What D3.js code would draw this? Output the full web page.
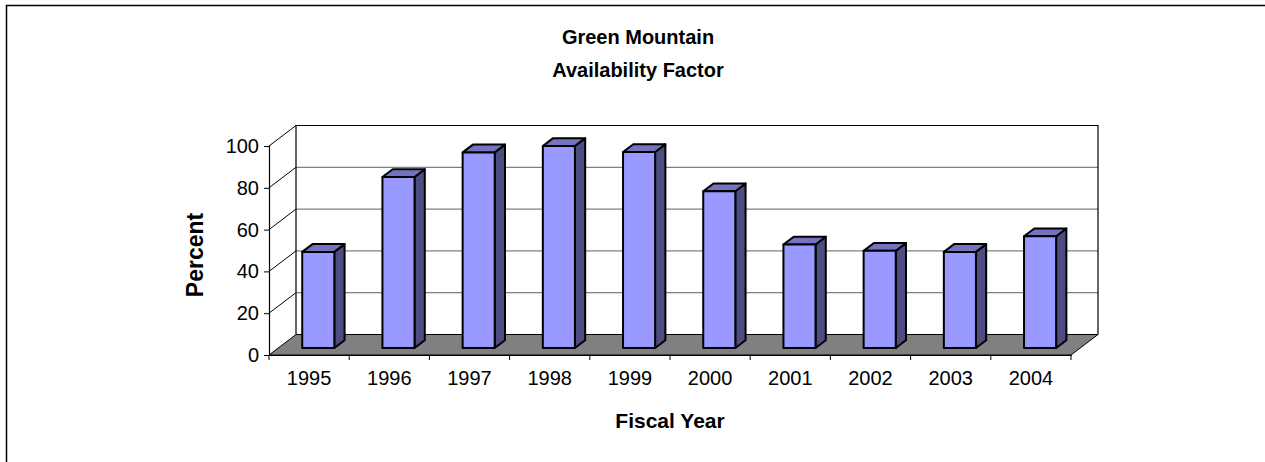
<!DOCTYPE html>
<html><head><meta charset="utf-8">
<script src="https://cdn.jsdelivr.net/npm/d3@7"></script>
<style>body{margin:0;background:#fff;}svg{display:block;font-family:Arial,"Liberation Sans",sans-serif;}</style>
</head><body>
<script>
const categories = ["1995","1996","1997","1998","1999","2000","2001","2002","2003","2004"];
const values = [46, 81.8, 93.6, 96.7, 93.8, 75, 49.5, 46.5, 46, 53.5];
const yTicks = [0, 20, 40, 60, 80, 100];
const titleLines = ["Green Mountain", "Availability Factor"];
const xTitle = "Fiscal Year";
const yTitle = "Percent";

const W = 1265, H = 462;
const svg = d3.select("body").append("svg").attr("width", W).attr("height", H);

// outer border (extends past right/bottom edges)
svg.append("rect").attr("x", 6.5).attr("y", 5.5).attr("width", W + 10).attr("height", H + 10)
  .attr("fill", "none").attr("stroke", "#000").attr("stroke-width", 1.5);

const X0 = 269, X1 = 1071, Y0 = 355, Y100 = 146;
const DX = 27, DY = -20.5;
const x = d3.scaleBand().domain(categories).range([X0, X1]).paddingInner(0.6).paddingOuter(0.3);
const xs = d3.scaleBand().domain(categories).range([X0, X1]);
const y = d3.scaleLinear().domain([0, 100]).range([Y0, Y100]);

// back wall gridlines
svg.append("g").selectAll("line").data(yTicks.filter(d => d > 0 && d < 100)).join("line")
  .attr("x1", X0 + DX).attr("x2", X1 + DX)
  .attr("y1", d => y(d) + DY).attr("y2", d => y(d) + DY)
  .attr("stroke", "#808080").attr("stroke-width", 1.2);
// side wall diagonals
svg.append("g").selectAll("line").data(yTicks.filter(d => d > 0)).join("line")
  .attr("x1", X0).attr("x2", X0 + DX)
  .attr("y1", d => y(d)).attr("y2", d => y(d) + DY)
  .attr("stroke", "#000").attr("stroke-width", 1);
// back wall frame
svg.append("path")
  .attr("d", `M${X0+DX},${y(0)+DY}V${y(100)+DY}H${X1+DX}V${y(0)+DY}`)
  .attr("fill", "none").attr("stroke", "#000").attr("stroke-width", 1.2);

// floor
svg.append("path")
  .attr("d", `M${X0},${Y0}L${X1},${Y0}L${X1+DX},${Y0+DY}L${X0+DX},${Y0+DY}Z`)
  .attr("fill", "#808080").attr("stroke", "#000").attr("stroke-width", 1);

// bars
const F0 = 0.34, F1 = 0.72;
const bw = x.bandwidth();
const bars = svg.append("g").selectAll("g").data(categories.map((c, i) => ({c, v: values[i]}))).join("g");
bars.each(function(d) {
  const g = d3.select(this);
  const xl = x(d.c) + F0 * DX, xr = xl + bw;
  const yb = y(0) + F0 * DY, yt = y(d.v) + F0 * DY;
  const ddx = (F1 - F0) * DX, ddy = (F1 - F0) * DY;
  const common = s => s.attr("stroke", "#000").attr("stroke-width", 2).attr("stroke-linejoin", "round");
  common(g.append("path").attr("d", `M${xr},${yb}L${xr+ddx},${yb+ddy}L${xr+ddx},${yt+ddy}L${xr},${yt}Z`).attr("fill", "#4D4D80"));
  common(g.append("path").attr("d", `M${xl},${yt}L${xl+ddx},${yt+ddy}L${xr+ddx},${yt+ddy}L${xr},${yt}Z`).attr("fill", "#7373BF"));
  common(g.append("rect").attr("x", xl).attr("y", yt).attr("width", bw).attr("height", yb - yt).attr("fill", "#9999FF"));
});

// y axis
const ya = svg.append("g").attr("transform", `translate(${X0},0)`)
  .call(d3.axisLeft(y).tickValues(yTicks).tickSize(5).tickPadding(5));
ya.select(".domain").attr("stroke", "#000").attr("stroke-width", 1.2);
ya.selectAll(".tick line").attr("stroke", "#000");
ya.selectAll("text").attr("font-size", 20).attr("fill", "#000").attr("font-family", "Arial, Liberation Sans, sans-serif");

// x axis
const xa = svg.append("g").attr("transform", `translate(0,${Y0})`)
  .call(d3.axisBottom(xs).tickSize(0).tickPadding(16));
xa.select(".domain").attr("stroke", "#000").attr("stroke-width", 1.2);
xa.selectAll("text").attr("font-size", 20).attr("fill", "#000").attr("font-family", "Arial, Liberation Sans, sans-serif");
svg.append("g").selectAll("line").data(d3.range(categories.length + 1)).join("line")
  .attr("x1", i => X0 + i * xs.step()).attr("x2", i => X0 + i * xs.step())
  .attr("y1", Y0).attr("y2", Y0 + 5).attr("stroke", "#000");

// titles
svg.append("text").attr("text-anchor", "middle").attr("font-weight", "bold").attr("font-size", 20)
  .selectAll("tspan").data(titleLines).join("tspan")
  .attr("x", 638).attr("y", (d, i) => 44 + i * 33).text(d => d);
svg.append("text").attr("x", 670).attr("y", 428).attr("text-anchor", "middle")
  .attr("font-weight", "bold").attr("font-size", 21).text(xTitle);
svg.append("text").attr("transform", "translate(203,255) rotate(-90)").attr("text-anchor", "middle")
  .attr("font-weight", "bold").attr("font-size", 23).text(yTitle);
</script>
</body></html>
